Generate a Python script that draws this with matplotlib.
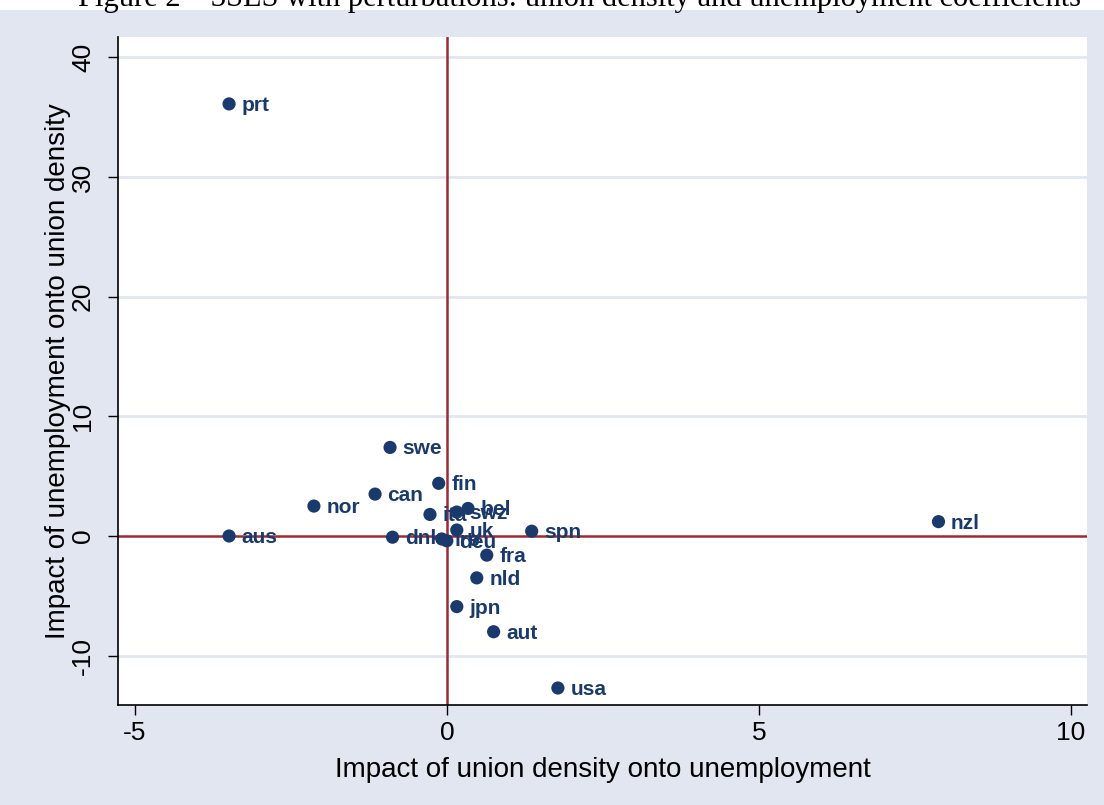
import matplotlib
matplotlib.use("Agg")
import matplotlib.pyplot as plt
from matplotlib.patches import Rectangle

# Country estimates: impact of union density on unemployment (x)
# and impact of unemployment on union density (y)
countries = ["prt", "swe", "fin", "can", "nor", "ita", "bel", "swz", "uk", "dnk",
             "ire", "deu", "spn", "fra", "nld", "jpn", "aut", "usa", "nzl", "aus"]
x_vals = [-3.49, -0.91, -0.13, -1.15, -2.13, -0.27, 0.34, 0.16, 0.16, -0.87,
          -0.08, 0.0, 1.36, 0.64, 0.48, 0.16, 0.75, 1.78, 7.88, -3.49]
y_vals = [36.1, 7.4, 4.4, 3.5, 2.5, 1.8, 2.3, 2.0, 0.5, -0.1,
          -0.25, -0.4, 0.4, -1.6, -3.5, -5.9, -8.0, -12.7, 1.2, 0.0]

x_ticks = [-5, 0, 5, 10]
y_ticks = [-10, 0, 10, 20, 30, 40]

navy = "#1a3a6e"
red = "#9e2a33"
band = "#e1e6f0"

plt.rcParams["font.family"] = ["Liberation Sans", "DejaVu Sans"]

fig = plt.figure(figsize=(11.04, 8.05), dpi=100, facecolor=band)
# white strip above the graph region, where the caption sits
fig.patches.append(Rectangle((0, 795 / 805), 1, 10 / 805, transform=fig.transFigure,
                             facecolor="white", edgecolor="none", zorder=-1))

ax = fig.add_axes([118 / 1104, 100 / 805, 969 / 1104, 668 / 805])
ax.set_facecolor("white")

ax.set_xlim(-5.27, 10.26)
ax.set_ylim(-14.12, 41.69)

for yt in y_ticks:
    if yt != 0:
        ax.axhline(yt, color=band, lw=2, zorder=1)
ax.axhline(0, color=red, lw=1.8, zorder=2)
ax.axvline(0, color=red, lw=1.8, zorder=2)

ax.scatter(x_vals, y_vals, s=90, color=navy, edgecolor="none", zorder=3)
for name, xv, yv in zip(countries, x_vals, y_vals):
    ax.annotate(name, (xv, yv), xytext=(9, -1), textcoords="offset points",
                ha="left", va="center", fontsize=15, fontweight="bold",
                color=navy, zorder=4)

ax.set_xticks(x_ticks)
ax.set_yticks(y_ticks)
ax.set_xticklabels([str(t) for t in x_ticks], fontsize=19)
ax.set_yticklabels([str(t) for t in y_ticks], fontsize=19, rotation=90, va="center")
ax.tick_params(direction="out", length=7.5, width=1, color="black")
ax.tick_params(axis="x", pad=4)
ax.tick_params(axis="y", pad=9)

for side in ["top", "right"]:
    ax.spines[side].set_visible(False)
for side in ["left", "bottom"]:
    ax.spines[side].set_color("black")
    ax.spines[side].set_linewidth(1.2)

ax.set_xlabel("Impact of union density onto unemployment", fontsize=20, va="center")
ax.set_ylabel("Impact of unemployment onto union density", fontsize=20, va="center")
ax.xaxis.set_label_coords(0.5, -65 / 668)
ax.yaxis.set_label_coords(-60 / 969, 0.5)

fig.text(0.525, 1 - 6 / 805,
         "Figure 2 \u2013 3SLS with perturbations: union density and unemployment coefficients",
         family=["Liberation Serif", "DejaVu Serif"], fontsize=22, ha="center", va="baseline")

fig.savefig("out.png", dpi=100, facecolor=fig.get_facecolor())
